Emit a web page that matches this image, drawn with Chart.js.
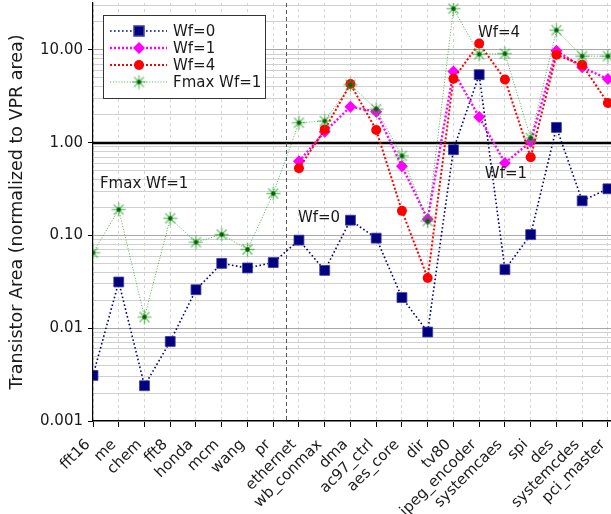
<!DOCTYPE html>
<html>
<head>
<meta charset="utf-8">
<script src="https://cdn.jsdelivr.net/npm/chart.js@4.4.1/dist/chart.umd.min.js"></script>
<style>
  html, body { margin: 0; padding: 0; background: #fff; }
  #wrap { width: 611px; height: 514px; }
</style>
</head>
<body>
<div id="wrap"><canvas id="grafico"></canvas></div>
<script>
const circuitos = ['fft16', 'me', 'chem', 'fft8', 'honda', 'mcm', 'wang', 'pr',
  'ethernet', 'wb_conmax', 'dma', 'ac97_ctrl', 'aes_core', 'dir', 'tv80',
  'jpeg_encoder', 'systemcaes', 'spi', 'des', 'systemcdes', 'pci_master'];

const wf0 = [0.0031, 0.0315, 0.0024, 0.0072, 0.026, 0.050, 0.0446, 0.051,
  0.089, 0.042, 0.146, 0.0935, 0.0214, 0.0091, 0.84, 5.4, 0.0428, 0.102, 1.46, 0.236, 0.318];
const wf1 = [null, null, null, null, null, null, null, null,
  0.63, 1.31, 2.44, 2.15, 0.556, 0.149, 5.85, 1.89, 0.605, 1.02, 9.8, 6.5, 4.84];
const wf4 = [null, null, null, null, null, null, null, null,
  0.53, 1.39, 4.28, 1.37, 0.184, 0.0348, 4.88, 11.7, 4.8, 0.695, 8.84, 6.9, 2.67];
const fmaxWf1 = [0.065, 0.19, 0.0132, 0.153, 0.0847, 0.1025, 0.0706, 0.283,
  1.64, 1.71, 4.2, 2.3, 0.72, 0.143, 27.8, 8.98, 9.1, 1.12, 16.3, 8.55, 8.55];

const yTickValues = [0.001, 0.01, 0.1, 1, 10];
const yTickLabels = ['0.001', '0.01', '0.10', '1.00', '10.00'];

// notas dentro do grafico: [texto, x (indice), y (valor)]
const notas = [
  ['Fmax Wf=1', 0.27, 0.36],
  ['Wf=0', 7.96, 0.152],
  ['Wf=4', 14.95, 15.2],
  ['Wf=1', 15.22, 0.453]
];

const FONTE = 'DejaVu Sans';

function pontos(serie) {
  return serie.map((v, i) => ({ x: i, y: v }));
}

// marcador asterisco com centro escuro
function criarEstrela() {
  const c = document.createElement('canvas');
  c.width = 15; c.height = 15;
  const g = c.getContext('2d');
  g.strokeStyle = 'rgba(40,160,40,0.6)';
  g.lineWidth = 1.5;
  for (let k = 0; k < 8; k++) {
    const a = k * Math.PI / 4;
    g.beginPath();
    g.moveTo(7.5, 7.5);
    g.lineTo(7.5 + Math.cos(a) * 7, 7.5 + Math.sin(a) * 7);
    g.stroke();
  }
  g.fillStyle = '#006400';
  g.beginPath(); g.arc(7.5, 7.5, 2.2, 0, Math.PI * 2); g.fill();
  return c;
}
const estrela = criarEstrela();

const series = [
  { label: 'Wf=0', data: pontos(wf0), borderColor: '#000080', backgroundColor: '#000080',
    borderWidth: 1.6, borderDash: [1.6, 2.4], pointStyle: 'rect', pointRadius: 7,
    pointBorderWidth: 0.8, pointBorderColor: '#3a3aa0', order: 3 },
  { label: 'Wf=1', data: pontos(wf1), borderColor: '#ff00ff', backgroundColor: '#ff00ff',
    borderWidth: 2.4, borderDash: [2, 2], pointStyle: 'rectRot', pointRadius: 6,
    pointBorderWidth: 0, order: 2 },
  { label: 'Wf=4', data: pontos(wf4), borderColor: '#ff0000', backgroundColor: '#ff0000',
    borderWidth: 2, borderDash: [2, 2], pointStyle: 'circle', pointRadius: 5,
    pointBorderWidth: 0, order: 1 },
  { label: 'Fmax Wf=1', data: pontos(fmaxWf1), borderColor: 'rgba(0,140,0,0.6)', backgroundColor: 'rgba(0,140,0,0.6)',
    borderWidth: 1, borderDash: [1.2, 1.6], pointStyle: estrela, pointRadius: 7,
    pointBorderWidth: 0, order: 0 }
];

const linhasRef = {
  id: 'linhasRef',
  beforeDatasetsDraw(chart) {
    const { ctx, chartArea: a, scales: { x, y } } = chart;
    ctx.save();
    const yy = Math.round(y.getPixelForValue(1));
    ctx.strokeStyle = '#000';
    ctx.lineWidth = 2.5;
    ctx.beginPath(); ctx.moveTo(a.left, yy); ctx.lineTo(a.right, yy); ctx.stroke();
    const xx = Math.round(x.getPixelForValue(7.5)) + 0.5;
    ctx.setLineDash([4, 3]);
    ctx.lineWidth = 1;
    ctx.strokeStyle = '#555';
    ctx.beginPath(); ctx.moveTo(xx, a.top); ctx.lineTo(xx, a.bottom); ctx.stroke();
    ctx.restore();
  },
  afterDatasetsDraw(chart) {
    const { ctx, scales: { x, y } } = chart;
    ctx.save();
    ctx.font = '15px "' + FONTE + '"';
    ctx.fillStyle = '#1a1a1a';
    ctx.textAlign = 'left';
    ctx.textBaseline = 'middle';
    notas.forEach(n => ctx.fillText(n[0], x.getPixelForValue(n[1]), y.getPixelForValue(n[2])));
    ctx.restore();
  }
};

const legendaCaixa = {
  id: 'legendaCaixa',
  afterDraw(chart) {
    const ctx = chart.ctx;
    ctx.save();
    ctx.fillStyle = '#fff';
    ctx.strokeStyle = '#333';
    ctx.lineWidth = 1;
    ctx.fillRect(103.5, 15.5, 162, 83);
    ctx.strokeRect(103.5, 15.5, 162, 83);
    const linhas = [31, 48, 65, 82];
    series.forEach((ds, i) => {
      const yy = linhas[i];
      ctx.save();
      ctx.strokeStyle = ds.borderColor;
      ctx.lineWidth = ds.borderWidth;
      ctx.setLineDash(ds.borderDash);
      ctx.beginPath(); ctx.moveTo(110, yy); ctx.lineTo(167, yy); ctx.stroke();
      ctx.setLineDash([]);
      ctx.fillStyle = ds.backgroundColor;
      ctx.strokeStyle = ds.pointBorderColor || ds.backgroundColor;
      Chart.helpers.drawPoint(ctx, {
        pointStyle: ds.pointStyle, rotation: 0,
        radius: ds.pointRadius, borderWidth: ds.pointBorderWidth
      }, 139, yy);
      ctx.restore();
      ctx.font = '15px "' + FONTE + '"';
      ctx.fillStyle = '#1a1a1a';
      ctx.textBaseline = 'middle';
      ctx.fillText(ds.label, 173, yy + 1);
    });
    ctx.restore();
  }
};

const ctx = document.getElementById('grafico').getContext('2d');
new Chart(ctx, {
  type: 'line',
  data: { datasets: series },
  plugins: [linhasRef, legendaCaixa],
  options: {
    responsive: true,
    maintainAspectRatio: false,
    animation: false,
    layout: { autoPadding: false, padding: { top: 3, right: 0, left: 0, bottom: 0 } },
    plugins: {
      legend: { display: false },
      tooltip: { enabled: false }
    },
    scales: {
      x: {
        type: 'linear',
        min: 0,
        max: 20.12,
        afterBuildTicks: s => { s.ticks = circuitos.map((_, i) => ({ value: i })); },
        afterFit: s => { s.height = 93; s.paddingLeft = 0; s.paddingRight = 0; },
        ticks: {
          autoSkip: false,
          minRotation: 45,
          maxRotation: 45,
          padding: 9,
          labelOffset: -5,
          color: '#1a1a1a',
          font: { family: FONTE, size: 15 },
          callback: v => circuitos[v]
        },
        grid: { color: '#d4d4d4', lineWidth: 1, tickLength: 6, tickColor: '#000' },
        border: { color: '#000', width: 1.2, dash: [3, 3] }
      },
      y: {
        type: 'logarithmic',
        min: 0.001,
        max: 32,
        afterBuildTicks: s => {
          const t = [];
          yTickValues.forEach(d => {
            for (let k = 1; k <= 9; k++) {
              const v = d * k;
              if (v <= 32) t.push({ value: v, major: k === 1 });
            }
          });
          s.ticks = t;
        },
        afterFit: s => { s.width = 93; s.paddingTop = 0; s.paddingBottom = 0; },
        ticks: {
          autoSkip: false,
          padding: 5,
          color: '#1a1a1a',
          font: { family: FONTE, size: 15 },
          callback: function (v) {
            const i = yTickValues.findIndex(d => Math.abs(d - v) / d < 1e-6);
            return i >= 0 ? yTickLabels[i] : '';
          }
        },
        grid: {
          lineWidth: 1,
          tickLength: 5,
          color: c => (c.tick && c.tick.major) ? '#a8a8a8' : '#d0d0d0',
          tickColor: c => (c.tick && c.tick.major) ? '#000' : 'rgba(0,0,0,0)'
        },
        border: { color: '#000', width: 1.2 },
        title: {
          display: true,
          text: 'Transistor Area (normalized to VPR area)',
          color: '#1a1a1a',
          font: { family: FONTE, size: 17.5 },
          padding: { top: 7, bottom: 0 }
        }
      }
    }
  }
});
</script>
</body>
</html>
